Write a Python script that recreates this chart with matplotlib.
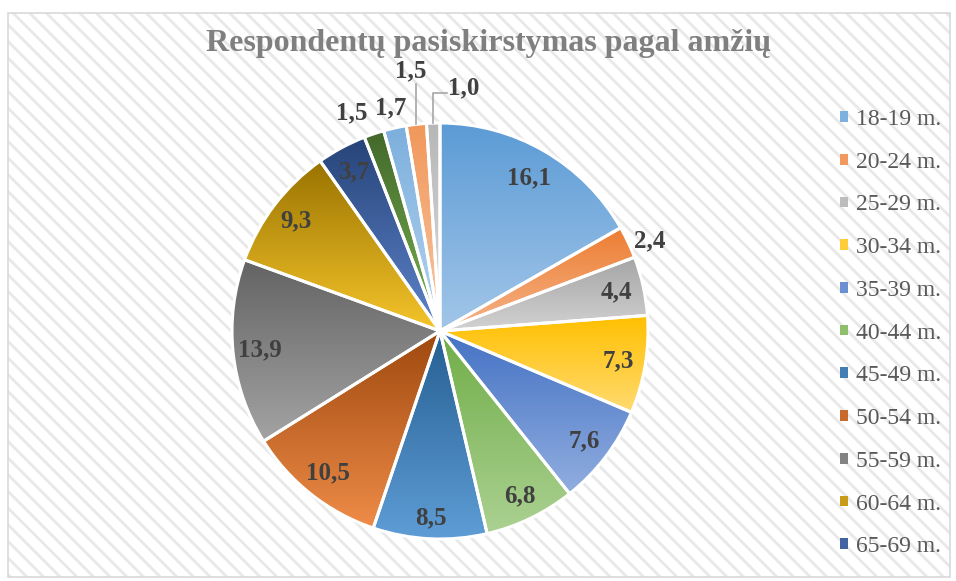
import numpy as np
import matplotlib
matplotlib.use('Agg')
import matplotlib.pyplot as plt
from matplotlib.patches import Rectangle, Wedge, Patch
from matplotlib.colors import to_rgb

# Data
groups = ['18-19 m.', '20-24 m.', '25-29 m.', '30-34 m.', '35-39 m.', '40-44 m.',
          '45-49 m.', '50-54 m.', '55-59 m.', '60-64 m.', '65-69 m.',
          '70-74 m.', '75-79 m.', '80-84 m.', '85+ m.']
values = [16.1, 2.4, 4.4, 7.3, 7.6, 6.8, 8.5, 10.5, 13.9, 9.3, 3.7, 1.5, 1.7, 1.5, 1.0]
title = 'Respondentų pasiskirstymas pagal amžių'
legend_count = 11          # Excel cut the legend after 65-69

# gradient colours (top -> bottom of every slice)
tops = ['#5B9BD5', '#ED7D31', '#A5A5A5', '#FFC000', '#4472C4', '#70AD47',
        '#255E91', '#9E480E', '#636363', '#997300', '#264478', '#43682B',
        '#7CAFDD', '#F1975A', '#B7B7B7']
bottoms = ['#A3C6E9', '#F5B48A', '#D2D2D2', '#FFDA70', '#92AEE0', '#ABD192',
           '#5E9DD6', '#EF8C48', '#A3A3A3', '#F6C52B', '#5F84CC', '#7AB352',
           '#B6D4EF', '#F8C7A2', '#DCDCDC']

# label distance from centre (fraction of radius) and angle shift in degrees
label_r = [0.85, 1.10, 0.87, 0.87, 0.87, 0.88, 0.90, 0.87, 0.87, 0.87, 0.87,
           1.13, 1.10, None, None]
label_shift = [0, -2, 0, 0, 0, 0, 0, 0, 0, 0, 0, 3.5, 0, 0, 0]

W, H = 956, 581
serif = ['Liberation Serif', 'DejaVu Serif']
plt.rcParams['hatch.linewidth'] = 2.0

fig = plt.figure(figsize=(W / 100, H / 100), dpi=100)
ax = fig.add_axes([0, 0, 1, 1])

# chart area with diagonal pattern
ax.add_patch(Rectangle((8, H - 577), 942, 564, facecolor='white',
                       edgecolor='#e8e8e8', hatch='\\\\', lw=0, zorder=0))
ax.add_patch(Rectangle((8, H - 577), 942, 564, facecolor='none',
                       edgecolor='#d9d9d9', lw=1.2, zorder=1))

cx, cy, R = 440, H - 331, 208
wedges, _ = ax.pie(values, colors=tops, startangle=90, counterclock=False,
                   center=(cx, cy), radius=R)

for i, w in enumerate(wedges):
    ext = w.get_path().get_extents()
    t = np.linspace(0, 1, 256)[:, None, None]
    grad = (1 - t) * np.array(to_rgb(bottoms[i])) + t * np.array(to_rgb(tops[i]))
    grad = np.repeat(grad, 2, axis=1)
    im = ax.imshow(grad, extent=(ext.x0, ext.x1, ext.y0, ext.y1), origin='lower',
                   aspect='auto', interpolation='bilinear', zorder=2)
    im.set_clip_path(w)
    w.set_facecolor('none')
    w.set_zorder(3)
    ax.add_patch(Wedge(w.center, w.r, w.theta1, w.theta2, facecolor='none',
                       edgecolor='white', lw=2.2, zorder=3))

# data labels
lab_kw = dict(fontsize=18, fontweight='bold', color='#404040', family=serif, zorder=5)
for i, w in enumerate(wedges):
    txt = f'{values[i]:.1f}'.replace('.', ',')
    mid = np.deg2rad((w.theta1 + w.theta2) / 2)
    if label_r[i] is not None:
        a = mid + np.deg2rad(label_shift[i])
        x = cx + R * label_r[i] * np.cos(a)
        y = cy + R * label_r[i] * np.sin(a)
        ax.text(x, y, txt, ha='center', va='center', **lab_kw)
    else:
        # small slices get a leader line
        x0 = cx + R * np.cos(mid)
        y0 = cy + R * np.sin(mid)
        if i == 13:
            ax.plot([x0, x0], [y0, y0 + 40], color='#a6a6a6', lw=1.2, zorder=4)
            ax.text(x0 - 6, y0 + 54, txt, ha='center', va='center', **lab_kw)
        else:
            ax.plot([x0, x0, x0 + 14], [y0, y0 + 30, y0 + 30], color='#a6a6a6',
                    lw=1.2, zorder=4)
            ax.text(x0 + 15, y0 + 35, txt, ha='left', va='center', **lab_kw)

ax.text(489, H - 44, title, ha='center', va='center', fontsize=23,
        fontweight='bold', color='#7f7f7f', family=serif, zorder=5)

# legend
mids = [tuple((np.array(to_rgb(a)) + np.array(to_rgb(b))) / 2) for a, b in zip(tops, bottoms)]
handles = [Patch(facecolor=mids[i], edgecolor='none') for i in range(legend_count)]
leg = ax.legend(handles, groups[:legend_count], loc='upper left',
                bbox_to_anchor=(840, H - 109), bbox_transform=ax.transData,
                frameon=False, borderpad=0, borderaxespad=0,
                handlelength=0.32, handleheight=0.32, handletextpad=0.35,
                labelspacing=0.92, prop={'family': serif, 'size': 17})
for t in leg.get_texts():
    t.set_color('#595959')

ax.set_xlim(0, W)
ax.set_ylim(0, H)
ax.set_aspect('auto')
ax.axis('off')

plt.savefig('out.png', dpi=100)
